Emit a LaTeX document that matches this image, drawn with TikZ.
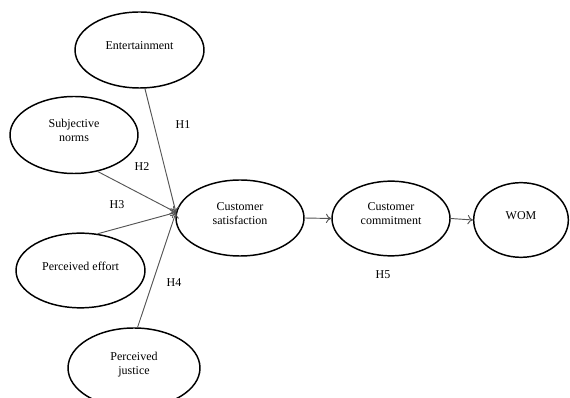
\documentclass[tikz,border=0pt]{standalone}
\usepackage{fontspec}
\setmainfont{Liberation Serif}
\usetikzlibrary{shapes.geometric,arrows.meta}

\tikzset{every picture/.style={line width=0.75pt}}
\tikzset{
	construct/.style={draw, ellipse, line width=1.1pt, inner sep=0pt, align=center, text depth=7pt, font=\fontsize{9}{10.5}\selectfont},
	path/.style={draw={rgb, 255:red, 85; green, 85; blue, 85}, line width=0.7pt, -{To[length=4pt,width=7pt]}},
	hyp/.style={font=\fontsize{9}{10.5}\selectfont}
}

\begin{document}
\begin{tikzpicture}[x=0.75pt,y=0.75pt,yscale=-1,xscale=1]
	\useasboundingbox (0,0) rectangle (570,398);
	\clip (0,0) rectangle (570,398);
	
	%Shape: Ellipse [id:ent] 
	\node [construct, minimum width=96.75pt, minimum height=57pt] (ent) at (139.5,50) {Entertainment};
	%Shape: Ellipse [id:subj] 
	\node [construct, minimum width=96pt, minimum height=57.75pt] (subj) at (74,135) {Subjective\\norms};
	%Shape: Ellipse [id:effort] 
	\node [construct, minimum width=96.75pt, minimum height=56pt] (effort) at (80.5,270.5) {Perceived effort};
	%Shape: Ellipse [id:just] 
	\node [construct, minimum width=99pt, minimum height=60pt] (just) at (134,368) {Perceived\\justice};
	%Shape: Ellipse [id:sat] 
	\node [construct, minimum width=96pt, minimum height=57pt] (sat) at (240,218) {Customer\\satisfaction};
	%Shape: Ellipse [id:com] 
	\node [construct, minimum width=88.5pt, minimum height=56pt] (com) at (391,218.5) {Customer\\commitment};
	%Shape: Ellipse [id:wom] 
	\node [construct, minimum width=71pt, minimum height=56pt] (wom) at (521,220) {WOM};
	
	%Straight Lines [id:h1] 
	\draw [path] (ent.-82) -- (sat.175);
	%Straight Lines [id:h2] 
	\draw [path] (subj.-57) -- (sat.175);
	%Straight Lines [id:h3] 
	\draw [path] (effort.65) -- (sat.175);
	%Straight Lines [id:h4] 
	\draw [path] (just.85) -- (sat.175);
	%Straight Lines [id:sat-com] 
	\draw [path] (sat.east) -- (com.west);
	%Straight Lines [id:com-wom] 
	\draw [path] (com.east) -- (wom.west);
	
	% Text Node
	\node [hyp] (lh1) at (183,125) {H1};
	% Text Node
	\node [hyp] (lh2) at (142,167) {H2};
	% Text Node
	\node [hyp] (lh3) at (117,205) {H3};
	% Text Node
	\node [hyp] (lh4) at (174,283) {H4};
	% Text Node
	\node [hyp] (lh5) at (383,275) {H5};
	
\end{tikzpicture}
\end{document}
